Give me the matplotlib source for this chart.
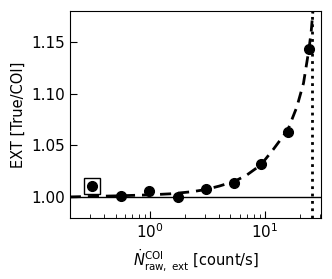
import numpy as np
import matplotlib
matplotlib.use('Agg')
import matplotlib.pyplot as plt

# measured points
rate = [0.31, 0.56, 0.98, 1.75, 3.07, 5.4, 9.2, 15.8, 24.1]
ext = [1.0106, 1.001, 1.006, 1.000, 1.0074, 1.0139, 1.0317, 1.0629, 1.1431]

# model curve
model_rate = [0.2, 0.5, 1.0, 1.5, 2.3, 3.0, 4.0, 5.4, 6.9, 9.2, 11.8, 15.8, 18.9, 21.6, 24.1, 25.2, 26.1, 26.5]
model_ext = [1.000, 1.001, 1.002, 1.003, 1.005, 1.007, 1.0105, 1.015, 1.021, 1.031,
             1.046, 1.065, 1.087, 1.110, 1.143, 1.160, 1.180, 1.190]

# saturation limit
rate_max = 25.6

fig, ax = plt.subplots(figsize=(3.32, 2.79), dpi=100)
fig.subplots_adjust(left=0.211, right=0.967, top=0.961, bottom=0.219)

ax.axhline(1.0, color='black', lw=1.0)
ax.plot(model_rate, model_ext, color='black', lw=2, ls=(0, (4, 2.5)))
ax.axvline(rate_max, color='black', lw=2, ls=':')
ax.plot(rate, ext, 'o', color='black', ms=7)
ax.plot(rate[0], ext[0], 's', mfc='none', mec='black', ms=11, mew=1.0)

ax.set_xscale('log')
ax.set_xlim(0.201, 30.7)
ax.set_ylim(0.9797, 1.18)
ax.set_yticks([1.00, 1.05, 1.10, 1.15])
ax.tick_params(direction='in', which='both', labelsize=11)
ax.tick_params(which='major', length=5)
ax.tick_params(which='minor', length=3)

ax.set_xlabel(r'$\dot{N}^{\rm COI}_{\rm raw,\ ext}$ [count/s]', fontsize=10.5)
ax.set_ylabel('EXT [True/COI]', fontsize=10.5)

plt.savefig('out.png', dpi=100)
